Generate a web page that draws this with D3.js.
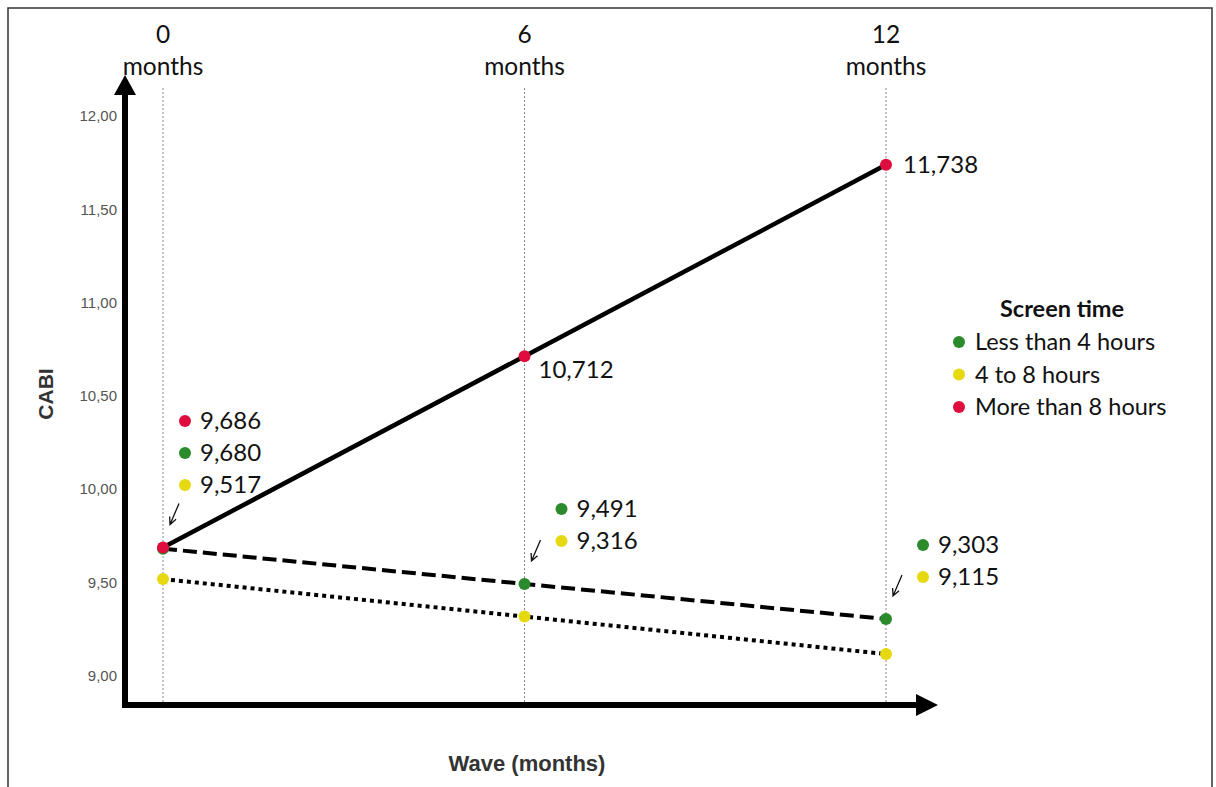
<!DOCTYPE html>
<html>
<head>
<meta charset="utf-8">
<script src="https://cdn.jsdelivr.net/npm/d3@7"></script>
<style>
html,body{margin:0;padding:0;background:#fff;}
svg{display:block;}
</style>
</head>
<body>
<svg id="chart" width="1216" height="787"></svg>
<script>
// ---- data ----
const waves = [0, 6, 12];
const waveLabels = ["0", "6", "12"];
const seriesNames = ["Less than 4 hours", "4 to 8 hours", "More than 8 hours"];
const seriesColors = ["#2b8a2b", "#e6d90f", "#de0d3e"];
const lessThan4 = [9.680, 9.491, 9.303];
const from4to8 = [9.517, 9.316, 9.115];
const moreThan8 = [9.686, 10.712, 11.738];
const yTicks = [9.0, 9.5, 10.0, 10.5, 11.0, 11.5, 12.0];

const series = [
  {name: seriesNames[0], color: seriesColors[0], values: lessThan4, dash: "14,6"},
  {name: seriesNames[1], color: seriesColors[1], values: from4to8, dash: "4,4"},
  {name: seriesNames[2], color: seriesColors[2], values: moreThan8, dash: null}
];

const svg = d3.select("#chart");
const valueFont = "Lato, 'Open Sans', sans-serif";
const fmt = v => d3.format(".3f")(v).replace(".", ",");
const tickFmt = v => d3.format(".2f")(v).replace(".", ",");

const x = d3.scaleLinear().domain([0, 12]).range([163, 886]);
const y = d3.scaleLinear().domain([9, 12]).range([675.5, 116]);

// frame
svg.append("rect").attr("x", 8).attr("y", 8).attr("width", 1204).attr("height", 800)
  .attr("fill", "none").attr("stroke", "#333").attr("stroke-width", 1.5);

// vertical dotted guides
svg.append("g").selectAll("line").data(waves).join("line")
  .attr("x1", d => x(d)).attr("x2", d => x(d))
  .attr("y1", 88).attr("y2", 703)
  .attr("stroke", "#8a8a8a").attr("stroke-width", 1).attr("stroke-dasharray", "2,2");

// column headers
const hdr = svg.append("g").attr("font-family", valueFont).attr("font-size", 24.5)
  .attr("fill", "#111").attr("text-anchor", "middle");
hdr.selectAll("text.num").data(waves).join("text").attr("class", "num")
  .attr("x", d => x(d)).attr("y", 43).text((d, i) => waveLabels[i]);
hdr.selectAll("text.mon").data(waves).join("text").attr("class", "mon")
  .attr("x", d => x(d)).attr("y", 75).text("months");

// y axis ticks
const yAxis = d3.axisLeft(y).tickValues(yTicks).tickFormat(tickFmt).tickSize(0).tickPadding(8);
const yg = svg.append("g").attr("transform", "translate(125,0)").call(yAxis);
yg.select(".domain").remove();
yg.attr("font-size", 15);
yg.selectAll("text").attr("font-family", "'Liberation Sans', Arial, sans-serif")
  .attr("font-size", 15).attr("fill", "#555");

// axes lines with arrows
svg.append("line").attr("x1", 125).attr("x2", 125).attr("y1", 708).attr("y2", 90)
  .attr("stroke", "#000").attr("stroke-width", 6);
svg.append("path").attr("d", "M125,75 L114,95 L136,95 Z").attr("fill", "#000");
svg.append("line").attr("x1", 122).attr("x2", 920).attr("y1", 705).attr("y2", 705)
  .attr("stroke", "#000").attr("stroke-width", 6);
svg.append("path").attr("d", "M938,705 L916,694 L916,716 Z").attr("fill", "#000");

// axis titles
svg.append("text").attr("transform", "translate(53,394) rotate(-90)")
  .attr("text-anchor", "middle").attr("font-family", "'Liberation Sans', Arial, sans-serif")
  .attr("font-weight", "bold").attr("font-size", 21).attr("fill", "#333").text("CABI");
svg.append("text").attr("x", 527).attr("y", 771)
  .attr("text-anchor", "middle").attr("font-family", "'Liberation Sans', Arial, sans-serif")
  .attr("font-weight", "bold").attr("font-size", 22).attr("fill", "#333").text("Wave (months)");

// lines
const line = d3.line().x((d, i) => x(waves[i])).y(d => y(d));
svg.append("g").selectAll("path").data(series).join("path")
  .attr("d", d => line(d.values))
  .attr("fill", "none").attr("stroke", "#000").attr("stroke-width", d => d.dash ? 4 : 4.5)
  .attr("stroke-dasharray", d => d.dash);

// points (draw green, yellow, then red on top)
const ptG = svg.append("g");
series.forEach(s => {
  ptG.selectAll(null).data(s.values).join("circle")
    .attr("cx", (d, i) => x(waves[i])).attr("cy", d => y(d)).attr("r", 6)
    .attr("fill", s.color);
});

// value annotations: grouped labels near each wave
const groups = [
  {wave: 0, dx: 22, top: 421, idx: [2, 0, 1]},
  {wave: 6, dx: 37, top: 509, idx: [0, 1]},
  {wave: 12, dx: 37, top: 545, idx: [0, 1]}
];
groups.forEach((g) => {
  const wi = waves.indexOf(g.wave);
  g.idx.forEach((si, k) => {
    const cx = x(g.wave) + g.dx, cy = g.top + k * 32;
    svg.append("circle").attr("cx", cx).attr("cy", cy).attr("r", 6).attr("fill", series[si].color);
    svg.append("text").attr("x", cx + 15).attr("y", cy + 8)
      .attr("font-family", valueFont).attr("font-size", 24).attr("fill", "#111")
      .text(fmt(series[si].values[wi]));
  });
});

// red labels beside points
const redOffsets = [null, {dx: 14, dy: 22}, {dx: 17, dy: 8}];
moreThan8.forEach((v, i) => {
  if (!redOffsets[i]) return;
  svg.append("text").attr("x", x(waves[i]) + redOffsets[i].dx).attr("y", y(v) + redOffsets[i].dy)
    .attr("font-family", valueFont).attr("font-size", 24).attr("fill", "#111").text(fmt(v));
});

// small pointer arrows
const pointers = [
  {wave: 0, v: moreThan8[0]},
  {wave: 6, v: lessThan4[1]},
  {wave: 12, v: lessThan4[2]}
];
pointers.forEach(p => {
  const ex = x(p.wave) + 7, ey = y(p.v) - 23;
  const sx = ex + 9, sy = ey - 21;
  const ang = Math.atan2(ey - sy, ex - sx);
  const a1 = ang + Math.PI - 0.45, a2 = ang + Math.PI + 0.45, L = 8;
  svg.append("path")
    .attr("d", `M${sx},${sy} L${ex},${ey} M${ex + L * Math.cos(a1)},${ey + L * Math.sin(a1)} L${ex},${ey} L${ex + L * Math.cos(a2)},${ey + L * Math.sin(a2)}`)
    .attr("fill", "none").attr("stroke", "#111").attr("stroke-width", 1.3);
});

// legend
const lg = svg.append("g").attr("font-family", valueFont).attr("font-size", 23.5).attr("fill", "#111");
lg.append("text").attr("x", 1062).attr("y", 317).attr("text-anchor", "middle")
  .attr("font-weight", "bold").text("Screen time");
const legendOrder = [0, 1, 2];
legendOrder.forEach((si, k) => {
  const cy = 342 + k * 32.5;
  lg.append("circle").attr("cx", 959).attr("cy", cy).attr("r", 6).attr("fill", series[si].color);
  lg.append("text").attr("x", 975).attr("y", cy + 8).text(series[si].name);
});
</script>
</body>
</html>
